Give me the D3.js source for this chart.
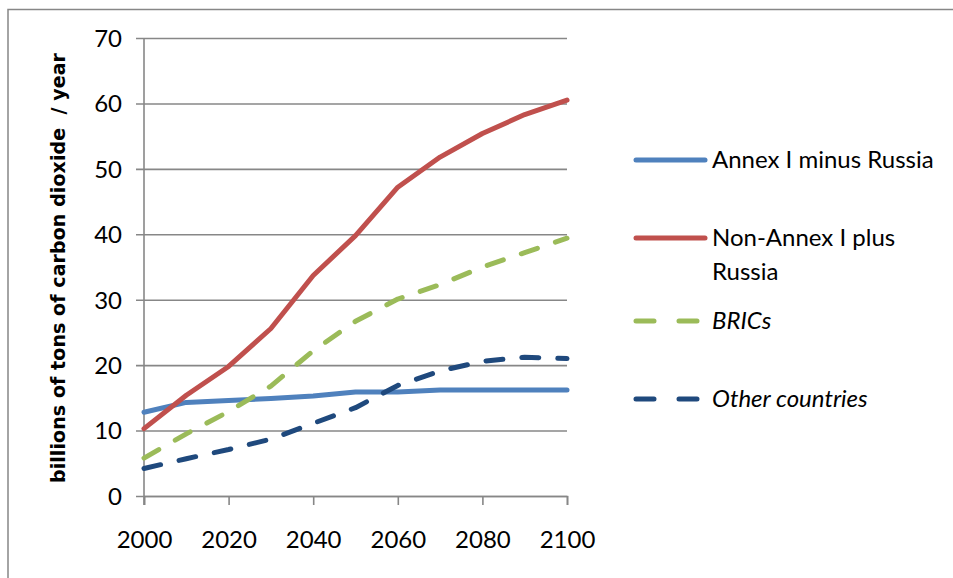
<!DOCTYPE html>
<html>
<head>
<meta charset="utf-8">
<script src="https://cdn.jsdelivr.net/npm/d3@7"></script>
<style>
  body { margin: 0; background: #fff; }
  text { font-family: Lato, "Open Sans", sans-serif; fill: #000; }
  .ytitle { font-family: "DejaVu Sans", sans-serif; font-weight: bold; }
</style>
</head>
<body>
<div id="chart"></div>
<script>
// data
var years = [2000, 2010, 2020, 2030, 2040, 2050, 2060, 2070, 2080, 2090, 2100];
var annex = [12.8, 14.3, 14.6, 14.9, 15.3, 15.9, 15.9, 16.2, 16.2, 16.2, 16.2];
var nonAnnex = [10.3, 15.4, 19.8, 25.6, 33.7, 39.8, 47.2, 51.8, 55.4, 58.3, 60.5];
var brics = [5.8, 9.5, 12.9, 16.8, 22.2, 26.7, 30.1, 32.3, 35.0, 37.2, 39.4];
var other = [4.2, 5.7, 7.1, 8.7, 11.1, 13.5, 16.9, 19.1, 20.6, 21.2, 21.0];
var xTicks = [2000, 2020, 2040, 2060, 2080, 2100];
var yTicks = [0, 10, 20, 30, 40, 50, 60, 70];

var series = [
  {name: "Annex I minus Russia", values: annex, color: "#4F81BD", dash: null},
  {name: "Non-Annex I plus Russia", values: nonAnnex, color: "#C0504D", dash: null},
  {name: "BRICs", values: brics, color: "#9BBB59", dash: "17,19"},
  {name: "Other countries", values: other, color: "#1F497D", dash: "17,19"}
];

var W = 953, H = 578;
var margin = {top: 38, left: 144, right: 386, bottom: 82};

var svg = d3.select("#chart").append("svg")
  .attr("width", W)
  .attr("height", H);

// chart frame
svg.append("rect")
  .attr("x", 8).attr("y", 9.5)
  .attr("width", W + 20).attr("height", H + 20)
  .attr("fill", "none")
  .attr("stroke", "#878787")
  .attr("stroke-width", 1.5);

var x = d3.scaleLinear().domain([2000, 2100]).range([margin.left, W - margin.right]);
var y = d3.scaleLinear().domain([0, 70]).range([H - margin.bottom, margin.top]);

// gridlines + y axis
var yAxis = svg.append("g")
  .attr("transform", "translate(" + margin.left + ",0)")
  .call(d3.axisLeft(y).tickValues(yTicks).tickSize(-(x(2100) - x(2000))).tickPadding(22));
yAxis.select(".domain").remove();
yAxis.selectAll("line")
  .attr("x1", -8)
  .attr("stroke", "#878787")
  .attr("stroke-width", 1.6);
yAxis.selectAll("text")
  .attr("font-size", 24)
  .attr("dy", "0.35em");

// x axis
var xAxis = svg.append("g")
  .attr("transform", "translate(0," + y(0) + ")")
  .call(d3.axisBottom(x).tickValues(xTicks).tickFormat(d3.format("d")).tickSize(9).tickPadding(26));
xAxis.select(".domain").attr("stroke", "#878787").attr("stroke-width", 1.6);
xAxis.selectAll("line").attr("stroke", "#878787").attr("stroke-width", 1.6);
xAxis.selectAll("text")
  .attr("font-size", 24);

// vertical axis line
svg.append("line")
  .attr("x1", x(2000)).attr("x2", x(2000))
  .attr("y1", y(70)).attr("y2", y(0) + 9)
  .attr("stroke", "#878787")
  .attr("stroke-width", 1.6);

// y title
svg.append("text")
  .attr("class", "ytitle")
  .attr("transform", "translate(65,268) rotate(-90)")
  .attr("text-anchor", "middle")
  .attr("font-size", 19)
  .attr("textLength", 430)
  .attr("xml:space", "preserve")
  .text("billions of tons of carbon dioxide  / year");

// lines
var line = d3.line()
  .x(function(d, i) { return x(years[i]); })
  .y(function(d) { return y(d); });

svg.selectAll(".series")
  .data(series)
  .enter()
  .append("path")
    .attr("d", function(d) { return line(d.values); })
    .attr("fill", "none")
    .attr("stroke", function(d) { return d.color; })
    .attr("stroke-width", 5)
    .attr("stroke-linecap", "round")
    .attr("stroke-linejoin", "round")
    .attr("stroke-dasharray", function(d) { return d.dash; });

// legend
var legendY = [160, 238, 321, 399];
var lg = svg.selectAll(".legend")
  .data(series)
  .enter()
  .append("g")
    .attr("transform", function(d, i) { return "translate(0," + legendY[i] + ")"; });

lg.append("line")
  .attr("x1", 636).attr("x2", 705)
  .attr("stroke", function(d) { return d.color; })
  .attr("stroke-width", 5)
  .attr("stroke-linecap", "round")
  .attr("stroke-dasharray", function(d) { return d.dash ? "18,25" : null; });

lg.append("text")
  .attr("x", 712)
  .attr("dy", "0.35em")
  .attr("font-size", 24)
  .attr("font-style", function(d, i) { return i > 1 ? "italic" : null; })
  .each(function(d) {
    var t = d3.select(this);
    if (d.name === "Non-Annex I plus Russia") {
      t.append("tspan").attr("x", 712).text("Non-Annex I plus");
      t.append("tspan").attr("x", 712).attr("dy", 34).text("Russia");
    } else {
      t.text(d.name);
    }
  });
</script>
</body>
</html>
